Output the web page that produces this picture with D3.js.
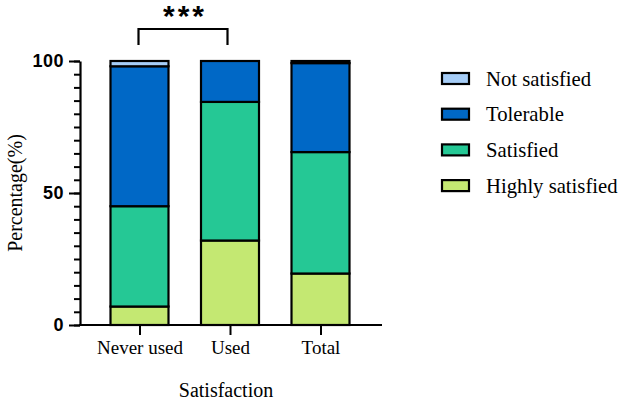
<!DOCTYPE html>
<html>
<head>
<meta charset="utf-8">
<script src="https://cdn.jsdelivr.net/npm/d3@7"></script>
<style>
  html, body { margin: 0; padding: 0; background: #fff; }
  svg { display: block; }
</style>
</head>
<body>
<div id="chart"></div>
<script>
'use strict';

// data (percent per group)
const groups = ['Never used', 'Used', 'Total'];
const highly_satisfied = [7, 32, 19.5];
const satisfied = [38, 52.5, 46];
const tolerable = [53, 15.5, 33.7];
const not_satisfied = [2, 0, 0.8];

const series_names = ['Highly satisfied', 'Satisfied', 'Tolerable', 'Not satisfied'];
const series_colors = ['#c4e872', '#25c895', '#0068c6', '#a6cdf7'];
const legend_order = ['Not satisfied', 'Tolerable', 'Satisfied', 'Highly satisfied'];
const y_major = [0, 50, 100];
const significance = '***';

const width = 624, height = 403;
const serif = '"Liberation Serif", "Times New Roman", serif';
const sans = '"Liberation Sans", Arial, sans-serif';

const svg = d3.select('#chart').append('svg')
    .attr('width', width)
    .attr('height', height);

// rows for the stack
const rows = groups.map((g, i) => ({
    group: g,
    'Highly satisfied': highly_satisfied[i],
    'Satisfied': satisfied[i],
    'Tolerable': tolerable[i],
    'Not satisfied': not_satisfied[i]
}));
const stacked = d3.stack().keys(series_names)(rows);

// scales
const y = d3.scaleLinear().domain([0, 100]).range([325, 61]);
const x = d3.scalePoint().domain(groups).range([139.5, 320.5]);
const bar_w = 58;
const color = d3.scaleOrdinal().domain(series_names).range(series_colors);

// bars
const layer = svg.append('g')
    .selectAll('g')
    .data(stacked)
    .join('g')
    .attr('fill', d => color(d.key));

layer.selectAll('rect')
    .data(d => d.filter(s => s[1] - s[0] > 0))
    .join('rect')
    .attr('x', d => x(d.data.group) - bar_w / 2)
    .attr('y', d => y(d[1]))
    .attr('width', bar_w)
    .attr('height', d => y(d[0]) - y(d[1]))
    .attr('stroke', '#000')
    .attr('stroke-width', 2.2);

// y axis: minor ticks then major ticks
const y_axis_g = svg.append('g').attr('transform', 'translate(80,0)');
y_axis_g.append('g')
    .call(d3.axisLeft(y).tickValues(d3.range(0, 101, 5)).tickSize(6).tickFormat(''))
    .call(g => g.select('.domain').remove())
    .call(g => g.selectAll('line').attr('stroke', '#000').attr('stroke-width', 2));
y_axis_g.append('g')
    .call(d3.axisLeft(y).tickValues(y_major).tickSize(11).tickSizeOuter(0).tickPadding(5))
    .call(g => g.select('.domain').attr('stroke-width', 2.2))
    .call(g => g.selectAll('line').attr('stroke', '#000').attr('stroke-width', 2))
    .call(g => g.selectAll('text')
        .style('font-family', sans)
        .style('font-weight', 'bold')
        .style('font-size', '18px')
        .attr('letter-spacing', '0.5px')
        .attr('fill', '#000'));

// x axis
svg.append('g')
    .attr('transform', 'translate(0,325)')
    .call(d3.axisBottom(x).tickSize(10).tickSizeOuter(0).tickPadding(6))
    .call(g => g.select('.domain').attr('d', 'M79,0H382').attr('stroke-width', 2.2))
    .call(g => g.selectAll('line').attr('stroke', '#000').attr('stroke-width', 2))
    .call(g => g.selectAll('text')
        .style('font-family', serif)
        .style('font-size', '19px')
        .attr('fill', '#000'));

// axis titles
svg.append('text')
    .attr('transform', 'translate(22,193) rotate(-90)')
    .attr('text-anchor', 'middle')
    .style('font-family', serif)
    .style('font-size', '20px')
    .attr('fill', '#000')
    .text('Percentage(%)');

svg.append('text')
    .attr('x', 226)
    .attr('y', 397)
    .attr('text-anchor', 'middle')
    .style('font-family', serif)
    .style('font-size', '20px')
    .attr('fill', '#000')
    .text('Satisfaction');

// significance bracket between first two groups
const bx0 = x(groups[0]) - 1, bx1 = x(groups[1]) - 2.5;
svg.append('path')
    .attr('d', `M${bx0},45V29H${bx1}V45`)
    .attr('fill', 'none')
    .attr('stroke', '#000')
    .attr('stroke-width', 2.2);

svg.append('text')
    .attr('x', (bx0 + bx1) / 2 + 2)
    .attr('y', 26)
    .attr('text-anchor', 'middle')
    .style('font-family', sans)
    .style('font-weight', 'bold')
    .style('font-size', '30px')
    .attr('letter-spacing', '3px')
    .attr('fill', '#000')
    .text(significance);

// legend
const legend = svg.append('g')
    .selectAll('g')
    .data(legend_order)
    .join('g')
    .attr('transform', (d, i) => `translate(442,${78.5 + i * 35.7})`);

legend.append('rect')
    .attr('x', 0)
    .attr('y', -5.5)
    .attr('width', 27)
    .attr('height', 11)
    .attr('fill', d => color(d))
    .attr('stroke', '#000')
    .attr('stroke-width', 2.2);

legend.append('text')
    .attr('x', 44)
    .attr('y', 7)
    .style('font-family', serif)
    .style('font-size', '20.7px')
    .attr('fill', '#000')
    .text(d => d);
</script>
</body>
</html>
